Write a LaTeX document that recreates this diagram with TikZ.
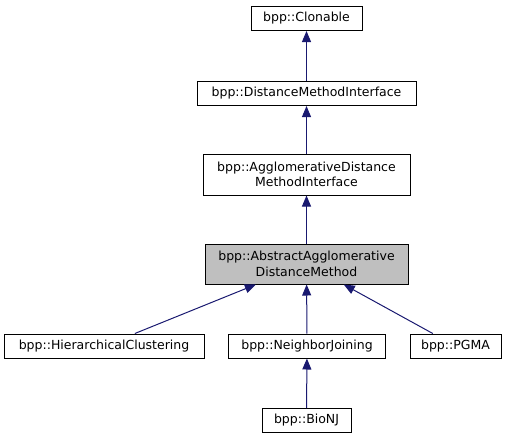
\documentclass[tikz,border=0pt]{standalone}
\usepackage{fontspec}
\setmainfont{DejaVu Sans}
\usetikzlibrary{arrows.meta}
\definecolor{edgeblue}{HTML}{191970}
\definecolor{hlgray}{HTML}{BFBFBF}
\tikzset{
  cls/.style={draw=black, line width=1pt, fill=white, inner sep=0pt, align=center,
    font=\fontsize{12.5}{15.5}\selectfont, minimum height=24pt},
  cls2/.style={cls, minimum height=40pt},
  edge/.style={draw=edgeblue, line width=1pt, -{Triangle[length=11pt,width=9pt]}}
}
\begin{document}
\begin{tikzpicture}[x=1pt,y=-1pt]
\useasboundingbox (0,0) rectangle (509,440);
\node[cls, minimum width=111pt] (clon) at (306.5,18.5) {bpp::Clonable};
\node[cls, minimum width=219pt] (dmi) at (306.5,93.5) {bpp::DistanceMethodInterface};
\node[cls2, minimum width=207pt, minimum height=41pt] (admi) at (306.5,174.5) {bpp::AgglomerativeDistance\\MethodInterface};
\node[cls2, minimum width=203pt, fill=hlgray] (abs) at (306.5,264) {bpp::AbstractAgglomerative\\DistanceMethod};
\node[cls, minimum width=200pt] (hc) at (104,346) {bpp::HierarchicalClustering};
\node[cls, minimum width=157pt] (nj) at (307,346) {bpp::NeighborJoining};
\node[cls, minimum width=91pt] (pgma) at (455.5,346) {bpp::PGMA};
\node[cls, minimum width=89pt] (bionj) at (306.5,420.5) {bpp::BioNJ};
\draw[edge] (dmi) -- (clon);
\draw[edge] (admi) -- (dmi);
\draw[edge] (abs) -- (admi);
\draw[edge] (hc) -- (abs);
\draw[edge] (nj) -- (abs);
\draw[edge] (pgma) -- (abs);
\draw[edge] (bionj) -- (nj);
\end{tikzpicture}
\end{document}
